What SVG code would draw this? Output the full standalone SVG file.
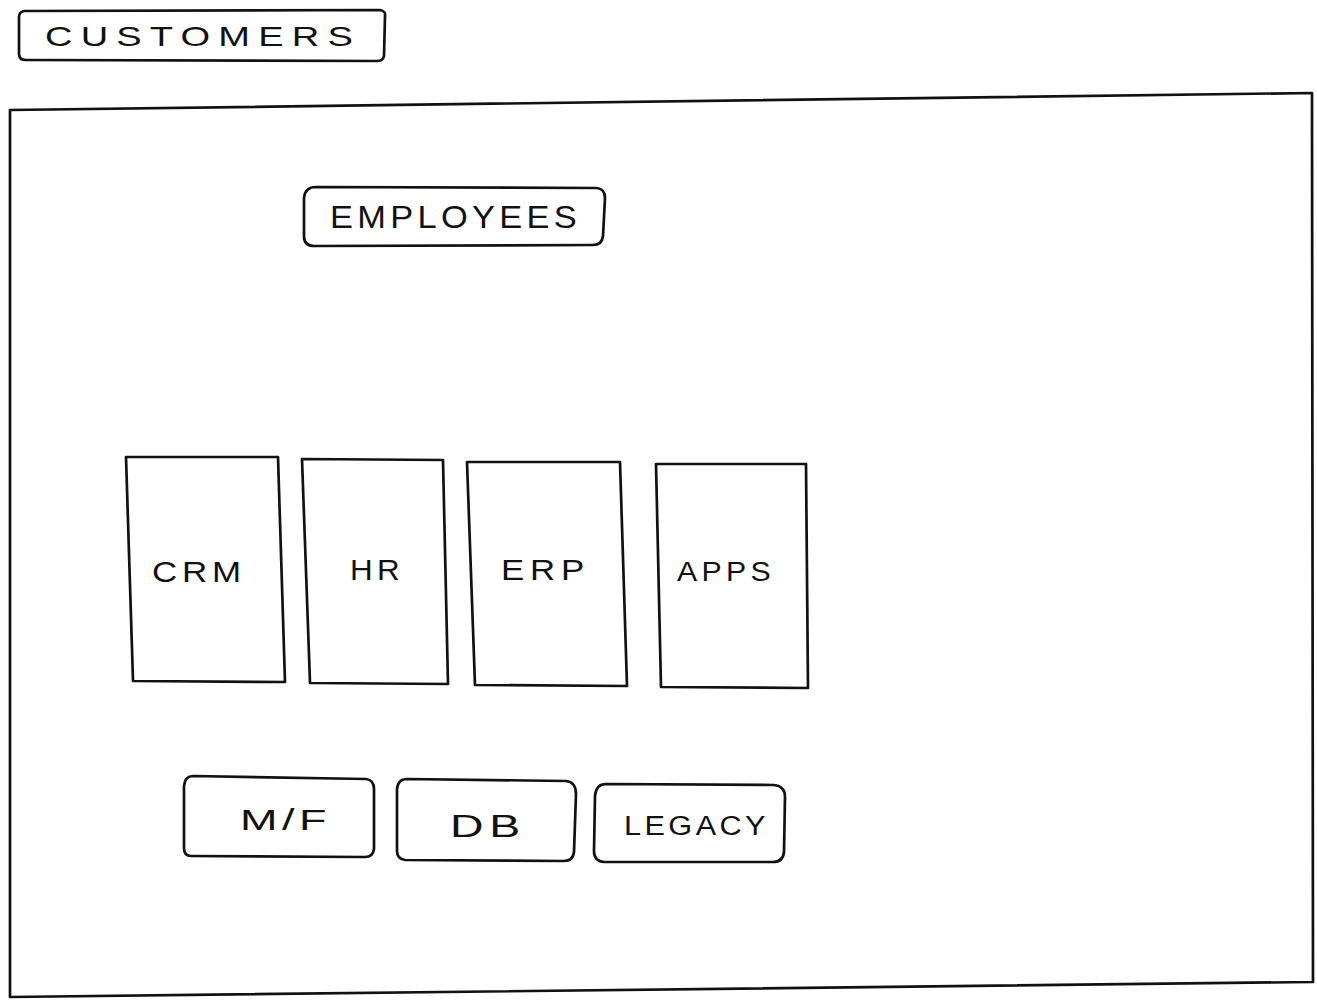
<svg xmlns="http://www.w3.org/2000/svg" width="1317" height="1000" viewBox="0 0 1317 1000">
<style>
.box{fill:none;stroke:#111;stroke-width:2.7;stroke-linejoin:round;stroke-linecap:round}
.lbl{font-family:"Liberation Sans",Arial,sans-serif;font-weight:normal;fill:#111;text-anchor:start}
</style>
<rect width="1317" height="1000" fill="#fff"/>
<g id="customers">
<path class="box" d="M24,11 L380,10 Q386,11 385,16 L384,56 Q383,61 377,61 L26,60 Q19,60 19,54 L19,17 Q19,12 24,11 Z"/>
<text class="lbl" x="45" y="46" font-size="28" letter-spacing="6" textLength="316" lengthAdjust="spacingAndGlyphs">CUSTOMERS</text>
</g>
<g id="enterprise">
<path class="box" d="M10,110 L1312,93 L1313,982 L10,997 Z"/>
</g>
<g id="employees">
<path class="box" d="M316,187 L597,188 Q605,189 605,198 L603,236 Q602,245 593,245 L314,246 Q304,246 304,236 L304,198 Q305,187 316,187 Z"/>
<text class="lbl" x="330" y="228" font-size="32" letter-spacing="4" textLength="251" lengthAdjust="spacingAndGlyphs">EMPLOYEES</text>
</g>
<g id="crm">
<path class="box" d="M126,457 L278,457 L285,682 L133,681 Z"/>
<text class="lbl" x="152" y="582" font-size="29" letter-spacing="4" textLength="94" lengthAdjust="spacingAndGlyphs">CRM</text>
</g>
<g id="hr">
<path class="box" d="M302,459 L443,460 L448,684 L310,683 Z"/>
<text class="lbl" x="350" y="580" font-size="29" letter-spacing="4" textLength="54" lengthAdjust="spacingAndGlyphs">HR</text>
</g>
<g id="erp">
<path class="box" d="M467,462 L620,462 L627,686 L475,685 Z"/>
<text class="lbl" x="501" y="580" font-size="30" letter-spacing="5" textLength="89" lengthAdjust="spacingAndGlyphs">ERP</text>
</g>
<g id="apps">
<path class="box" d="M656,464 L806,464 L808,688 L661,687 Z"/>
<text class="lbl" x="677" y="581" font-size="28" letter-spacing="4" textLength="98" lengthAdjust="spacingAndGlyphs">APPS</text>
</g>
<g id="mf">
<path class="box" d="M193,776 L366,779 Q374,780 374,789 L374,849 Q373,857 365,857 L191,856 Q184,856 184,848 L184,786 Q185,776 193,776 Z"/>
<text class="lbl" x="240" y="830" font-size="30" letter-spacing="3" textLength="91" lengthAdjust="spacingAndGlyphs">M/F</text>
</g>
<g id="db">
<path class="box" d="M407,779 L566,781 Q576,782 576,794 L574,852 Q573,861 564,861 L405,860 Q397,859 397,851 L397,789 Q398,779 407,779 Z"/>
<text class="lbl" x="450" y="837" font-size="32" letter-spacing="4" textLength="76" lengthAdjust="spacingAndGlyphs">DB</text>
</g>
<g id="legacy">
<path class="box" d="M606,784 L774,785 Q785,786 785,797 L784,852 Q783,862 773,862 L604,862 Q594,861 594,851 L595,796 Q596,784 606,784 Z"/>
<text class="lbl" x="624" y="835" font-size="27" letter-spacing="3" textLength="145" lengthAdjust="spacingAndGlyphs">LEGACY</text>
</g>
<g id="connectors"></g>
</svg>
